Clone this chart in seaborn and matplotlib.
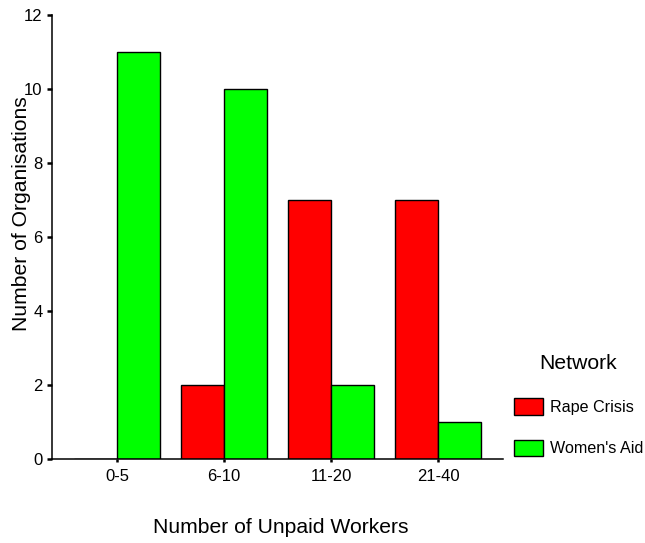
import pandas as pd
import matplotlib
matplotlib.use("Agg")
import matplotlib.pyplot as plt
import seaborn as sns

# Data
categories = ['0-5', '6-10', '11-20', '21-40']
rape_crisis = [0, 2, 7, 7]
womens_aid = [11, 10, 2, 1]

data = pd.DataFrame({
    'Unpaid Workers': categories * 2,
    'Count': rape_crisis + womens_aid,
    'Network': ['Rape Crisis'] * 4 + ["Women's Aid"] * 4,
})

sns.set_style('ticks')
plt.rcParams['font.family'] = ['Liberation Sans', 'DejaVu Sans']
plt.rcParams['text.color'] = 'black'
plt.rcParams['axes.labelcolor'] = 'black'

fig = plt.figure(figsize=(6.45, 5.43), dpi=100)
ax = fig.add_axes([0.0806, 0.1547, 0.6992, 0.8177])

sns.barplot(data=data, x='Unpaid Workers', y='Count', hue='Network',
            palette={'Rape Crisis': '#ff0000', "Women's Aid": '#00ff00'},
            width=0.8, edgecolor='black', linewidth=1, saturation=1, ax=ax)

ax.set_xlim(-0.607, 3.607)
ax.set_ylim(0, 12)
ax.set_yticks(range(0, 13, 2))

# axis labels
ax.set_xlabel('Number of Unpaid Workers', fontsize=15.2)
ax.set_ylabel('Number of Organisations', fontsize=15.2)
ax.xaxis.set_label_coords(0.5067, -0.1554)
ax.xaxis.label.set_verticalalignment('center')
ax.yaxis.set_label_coords(-0.0676, 0.553)
ax.yaxis.label.set_verticalalignment('center')

ax.tick_params(axis='both', labelsize=12, colors='black', direction='out')
ax.tick_params(axis='y', length=3.5, width=1.8, pad=3.2)
ax.tick_params(axis='x', length=2.5, width=1.8, pad=5)
sns.despine(ax=ax)
for side in ['left', 'bottom']:
    ax.spines[side].set_color('black')
    ax.spines[side].set_linewidth(1.1)

leg = ax.legend(title='Network', loc='upper left', bbox_to_anchor=(0.797, 0.348),
                bbox_transform=fig.transFigure, frameon=False,
                fontsize=11.6, title_fontsize=15.2, borderpad=0, borderaxespad=0,
                handlelength=1.8, handleheight=1.2, labelspacing=1.55,
                handletextpad=0.4)

fig.savefig('out.png', dpi=100)
